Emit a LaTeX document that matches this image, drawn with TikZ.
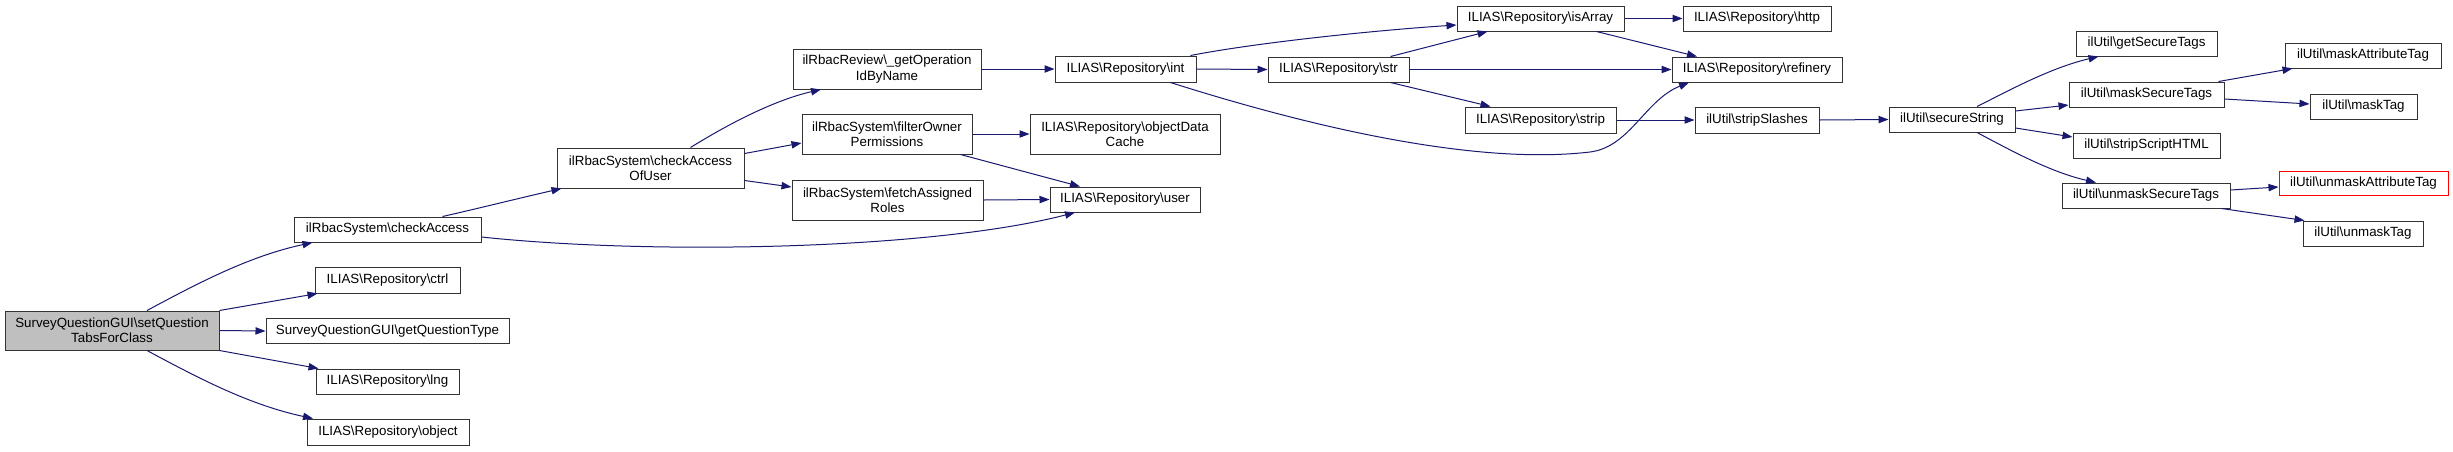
\documentclass[tikz,border=0pt]{standalone}
\usepackage{fontspec}
\setmainfont{Liberation Sans}
\usetikzlibrary{arrows.meta,calc}
\definecolor{edgecol}{HTML}{191970}
\definecolor{boxline}{HTML}{333333}
\definecolor{maingray}{HTML}{BFBFBF}
\newcommand{\bsl}{\textbackslash}
\tikzset{
  fn/.style={draw=boxline, line width=0.75pt, fill=white, inner sep=0pt, align=center,
             font=\fontsize{10}{11.5}\selectfont},
  sz/.style 2 args={minimum width=#1*0.75pt, minimum height=#2*0.75pt},
  redbox/.style={draw=red},
  call/.style={draw=edgecol, line width=0.75pt,
               -{Triangle[length=7.5pt,width=5.5pt,fill=edgecol]}}
}
\begin{document}
\begin{tikzpicture}[x=0.75pt,y=-0.75pt]
\useasboundingbox (0,0) rectangle (2453,451);
\fill[white] (0,0) rectangle (2453,451);

% nodes
\node[fn,sz={214}{39},fill=maingray] (main) at (112,330.5) {SurveyQuestionGUI\bsl setQuestion\\TabsForClass};
\node[fn,sz={187}{25}] (checkAccess) at (387.5,229.5) {ilRbacSystem\bsl checkAccess};
\node[fn,sz={145}{26}] (ctrl) at (387.5,280) {ILIAS\bsl Repository\bsl ctrl};
\node[fn,sz={243}{25}] (gqt) at (387.5,331) {SurveyQuestionGUI\bsl getQuestionType};
\node[fn,sz={143}{25}] (lng) at (387.5,381.5) {ILIAS\bsl Repository\bsl lng};
\node[fn,sz={162}{26}] (object) at (388,432) {ILIAS\bsl Repository\bsl object};

\node[fn,sz={187}{40}] (caou) at (650.5,168) {ilRbacSystem\bsl checkAccess\\OfUser};
\node[fn,sz={188}{40}] (getop) at (887,69) {ilRbacReview\bsl\_getOperation\\IdByName};
\node[fn,sz={170}{40}] (filter) at (887,134) {ilRbacSystem\bsl filterOwner\\Permissions};
\node[fn,sz={191}{40}] (fetch) at (887.5,200) {ilRbacSystem\bsl fetchAssigned\\Roles};

\node[fn,sz={141}{26}] (int) at (1125.5,69) {ILIAS\bsl Repository\bsl int};
\node[fn,sz={190}{40}] (odc) at (1125,134) {ILIAS\bsl Repository\bsl objectData\\Cache};
\node[fn,sz={150}{25}] (user) at (1125,199.5) {ILIAS\bsl Repository\bsl user};

\node[fn,sz={141}{25}] (str) at (1338.5,69.5) {ILIAS\bsl Repository\bsl str};
\node[fn,sz={167}{25}] (isArray) at (1540.5,18.5) {ILIAS\bsl Repository\bsl isArray};
\node[fn,sz={151}{26}] (strip) at (1540.5,120) {ILIAS\bsl Repository\bsl strip};

\node[fn,sz={148}{25}] (http) at (1757,18.5) {ILIAS\bsl Repository\bsl http};
\node[fn,sz={170}{25}] (refinery) at (1757,69.5) {ILIAS\bsl Repository\bsl refinery};
\node[fn,sz={124}{26}] (slashes) at (1757,120) {ilUtil\bsl stripSlashes};

\node[fn,sz={126}{25}] (secure) at (1952,119.5) {ilUtil\bsl secureString};

\node[fn,sz={141}{25}] (gst) at (2146.5,43.5) {ilUtil\bsl getSecureTags};
\node[fn,sz={155}{25}] (mst) at (2146.5,94.5) {ilUtil\bsl maskSecureTags};
\node[fn,sz={147}{25}] (ssh) at (2146.5,145.5) {ilUtil\bsl stripScriptHTML};
\node[fn,sz={168}{25}] (ust) at (2146,195.5) {ilUtil\bsl unmaskSecureTags};

\node[fn,sz={156}{25}] (mat) at (2363,55.5) {ilUtil\bsl maskAttributeTag};
\node[fn,sz={107}{25}] (mtag) at (2363.5,106.5) {ilUtil\bsl maskTag};
\node[fn,sz={169}{24},redbox] (umat) at (2363.5,183) {ilUtil\bsl unmaskAttributeTag};
\node[fn,sz={120}{25}] (utag) at (2363,233.5) {ilUtil\bsl unmaskTag};

% edges
\draw[call] ($(main.north)+(35,0)$) .. controls (200,282) and (250,256) .. ($(checkAccess.south)+(-75,0)$);
\draw[call] (main.north east) -- ($(ctrl.south west)+(3,0)$);
\draw[call] (main.east) -- (gqt.west);
\draw[call] (main.south east) -- ($(lng.north west)+(3,0)$);
\draw[call] ($(main.south)+(35,0)$) .. controls (200,379) and (250,405) .. ($(object.north)+(-75,0)$);

\draw[call] ($(checkAccess.north)+(55,0)$) .. controls (480,208) and (520,198) .. ($(caou.south west)+(5,0)$);
\draw[call] ($(checkAccess.east)+(0,7.5)$) .. controls (650,255) and (930,250) .. ($(user.south)+(-50,0)$);

\draw[call] ($(caou.north)+(40,0)$) .. controls (730,123) and (775,100) .. ($(getop.south)+(-66,0)$);
\draw[call] ($(caou.north east)+(0,6)$) -- ($(filter.west)+(0,9)$);
\draw[call] ($(caou.south east)+(0,-8)$) -- ($(fetch.west)+(0,-13)$);

\draw[call] (getop.east) -- (int.west);
\draw[call] (filter.east) -- (odc.west);
\draw[call] ($(filter.south east)+(-12,0)$) -- ($(user.north)+(-45,0)$);
\draw[call] (fetch.east) -- (user.west);

\draw[call] ($(int.north east)+(-6,0)$) .. controls (1260,42) and (1380,30) .. ($(isArray.west)+(0,6.5)$);
\draw[call] (int.east) -- (str.west);
\draw[call] ($(int.south east)+(-26,0)$) .. controls (1320,130) and (1480,165) .. (1590,152)
   .. controls (1630,147) and (1645,100) .. ($(refinery.south)+(-68,0)$);

\draw[call] ($(str.north east)+(-19,0)$) -- ($(isArray.south)+(-53,0)$);
\draw[call] (str.east) -- (refinery.west);
\draw[call] ($(str.south east)+(-19,0)$) -- ($(strip.north)+(-50,0)$);

\draw[call] (isArray.east) -- (http.west);
\draw[call] ($(isArray.south east)+(-28,0)$) -- ($(refinery.north)+(-60,0)$);
\draw[call] (strip.east) -- (slashes.west);
\draw[call] (slashes.east) -- (secure.west);

\draw[call] ($(secure.north)+(25,0)$) .. controls (2010,90) and (2050,68) .. ($(gst.south)+(-48,0)$);
\draw[call] ($(secure.east)+(0,-8.5)$) -- ($(mst.west)+(0,10.5)$);
\draw[call] ($(secure.east)+(0,8.5)$) -- ($(ssh.west)+(0,-8.5)$);
\draw[call] ($(secure.south)+(25,0)$) .. controls (2010,150) and (2050,172) .. ($(ust.north)+(-50,0)$);

\draw[call] ($(mst.north east)+(-6,0)$) -- ($(mat.south west)+(8,0)$);
\draw[call] ($(mst.east)+(0,4.5)$) -- ($(mtag.west)+(0,-2.5)$);
\draw[call] ($(ust.east)+(0,-5.5)$) -- ($(umat.west)+(0,4)$);
\draw[call] ($(ust.south east)+(-9,0)$) -- ($(utag.north west)+(2,0)$);
\end{tikzpicture}
\end{document}
